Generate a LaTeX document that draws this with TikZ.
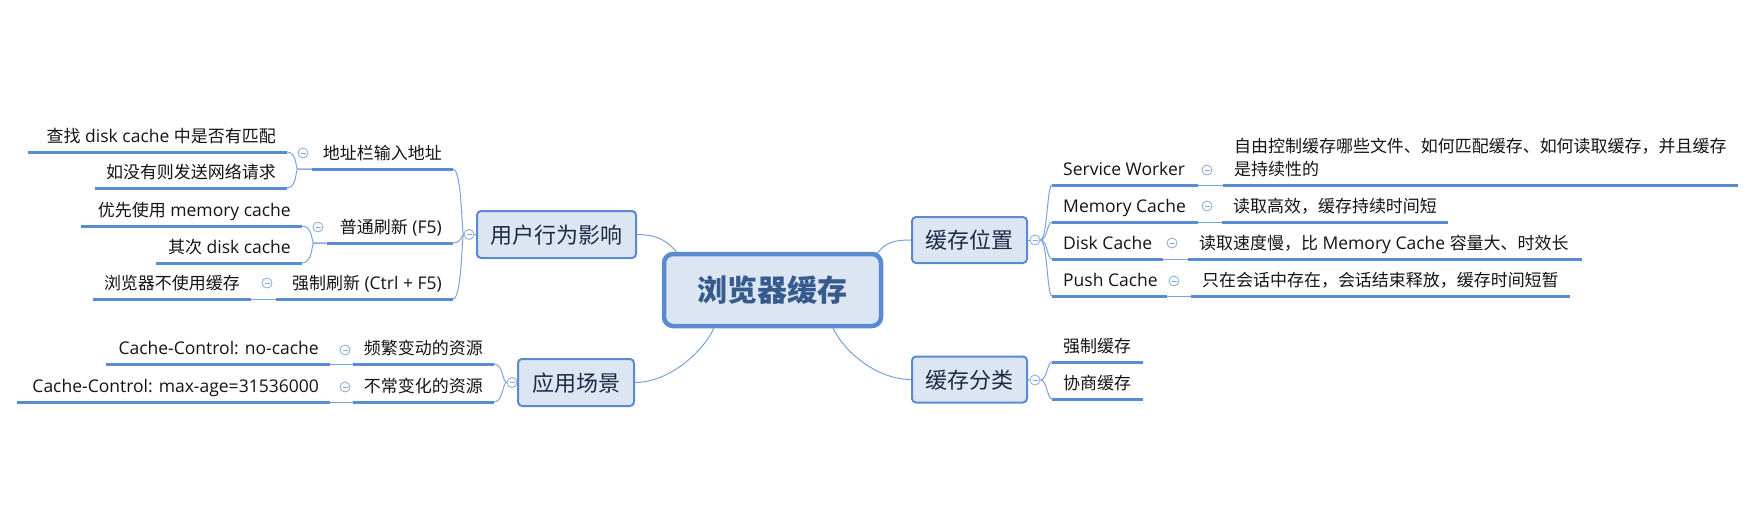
\documentclass[tikz,border=0pt]{standalone}
\usepackage{fontspec}
\setmainfont{Open Sans}
\newfontfamily\cjk{Noto Sans CJK SC}
\newfontfamily\cjks{Noto Sans CJK SC}[Scale=0.97]
\usetikzlibrary{calc}
\definecolor{conn}{HTML}{7AA3DA}
\definecolor{uln}{HTML}{588DD5}
\definecolor{tfill}{HTML}{DCE6F2}
\definecolor{tborder}{HTML}{5A8BD0}
\definecolor{rtext}{HTML}{385B8E}
\definecolor{ttext}{HTML}{1C2B45}
\definecolor{circ}{HTML}{86AADC}
\definecolor{ltext}{HTML}{141414}
\newcommand\zh[1]{{\cjks #1}}
\newcommand\Lx[2]{\hbox to #1pt{\hss #2}}
\newcommand\Rx[2]{\hbox to #1pt{#2\hss}}
\pgfdeclarelayer{back}
\pgfdeclarelayer{bg}
\pgfsetlayers{back,bg,main}
\begin{document}
\begin{tikzpicture}[x=1pt,y=-1pt,
  rootnode/.style={draw=tborder, line width=4.5pt, fill=tfill, rounded corners=9pt,
    minimum width=217pt, minimum height=72pt, inner sep=0pt, text=rtext,
    font={\cjk\bfseries\fontsize{30}{36}\selectfont}, text height=25pt, text depth=2pt},
  topic/.style={draw=tborder, line width=2pt, fill=tfill, rounded corners=4pt, inner sep=0pt,
    text=ttext, font={\cjk\fontsize{22}{26}\selectfont}, text height=18.5pt, text depth=1.5pt},
  leaf/.style={inner xsep=11pt, inner ysep=5pt, text height=13.5pt, text depth=4.5pt,
    text=ltext, font={\fontsize{17.5}{23}\selectfont}},
  uline/.style={draw=uln, line width=3pt},
  conn/.style={draw=conn, line width=1pt},
  mini/.style={circle, draw=circ, fill=white, line width=0.8pt, minimum size=10pt, inner sep=0pt,
    path picture={\draw[circ, line width=0.8pt]
      ([xshift=-2.5pt]path picture bounding box.center) -- ([xshift=2.5pt]path picture bounding box.center);}}
]
\begin{pgfonlayer}{back}
\fill[white] (0,0) rectangle (1761,507);
\end{pgfonlayer}
\useasboundingbox (0,0) rectangle (1761,507);

% main nodes
\node[rootnode] (root) at (772.5,290) {浏览器缓存};
\node[topic, minimum width=159pt, minimum height=47pt] (ub) at (556.5,234.5) {用户行为影响};
\node[topic, minimum width=116pt, minimum height=47pt] (yy) at (576,382.5) {应用场景};
\node[topic, minimum width=115pt, minimum height=46pt] (wz) at (969.5,240) {缓存位置};
\node[topic, minimum width=115pt, minimum height=46pt] (fl) at (969.5,379.5) {缓存分类};

% left leaves
\node[leaf, anchor=south east] (a1) at (453,169) {\Lx{119}{\zh{地址栏输入地址}}};
\node[leaf, anchor=south east] (a2) at (453,243) {\Lx{104}{\zh{普通刷新} (F5)}};
\node[leaf, anchor=south east] (a3) at (453,299) {\Lx{155}{\zh{强制刷新} (Ctrl + F5)}};
\node[leaf, anchor=south east] (b1) at (287,152) {\Lx{237}{\zh{查找} disk cache \zh{中是否有匹配}}};
\node[leaf, anchor=south east] (b2) at (287,188) {\Lx{170}{\zh{如没有则发送网络请求}}};
\node[leaf, anchor=south east] (b3) at (302,226) {\Lx{199}{\zh{优先使用} memory cache}};
\node[leaf, anchor=south east] (b4) at (302,263) {\Lx{124}{\zh{其次} disk cache}};
\node[leaf, anchor=south east] (b5) at (251,299) {\Lx{136}{\zh{浏览器不使用缓存}}};
\node[leaf, anchor=south east] (f1) at (494,364) {\Lx{119}{\zh{频繁变动的资源}}};
\node[leaf, anchor=south east] (f2) at (494,402) {\Lx{119}{\zh{不常变化的资源}}};
\node[leaf, anchor=south east] (g1) at (330,364) {\Lx{202}{Cache-Control: no-cache}};
\node[leaf, anchor=south east] (g2) at (330,402) {\Lx{291}{Cache-Control: max-age=31536000}};

% right leaves
\node[leaf, anchor=south west] (c1) at (1052,185) {\Rx{124}{Service Worker}};
\node[leaf, anchor=south west] (c2) at (1052,222) {\Rx{124}{Memory Cache}};
\node[leaf, anchor=south west] (c3) at (1052,259) {\Rx{89}{Disk Cache}};
\node[leaf, anchor=south west] (c4) at (1052,296) {\Rx{93}{Push Cache}};
\node[leaf, anchor=south west, text width=493pt, align=left, text depth=27.5pt] (d1) at (1223,185)
  {\zh{自由控制缓存哪些文件、如何匹配缓存、如何读取缓存，并且缓存}\\\zh{是持续性的}};
\node[leaf, anchor=south west] (d2) at (1222,222) {\Rx{204}{\zh{读取高效，缓存持续时间短}}};
\node[leaf, anchor=south west] (d3) at (1188,259) {\Rx{372}{\zh{读取速度慢，比} Memory Cache \zh{容量大、时效长}}};
\node[leaf, anchor=south west] (d4) at (1191,296) {\Rx{357}{\zh{只在会话中存在，会话结束释放，缓存时间短暂}}};
\node[leaf, anchor=south west] (e1) at (1052,362) {\Rx{69}{\zh{强制缓存}}};
\node[leaf, anchor=south west] (e2) at (1052,399) {\Rx{69}{\zh{协商缓存}}};

% underlines
\foreach \n in {a1,a2,a3,b1,b2,b3,b4,b5,f1,f2,g1,g2,c1,c2,c3,c4,d1,d2,d3,d4,e1,e2}
  \draw[uline] (\n.south west) -- (\n.south east);

% collapse marks
\node[mini] (kub) at (469,234.5) {};
\node[mini] (kyy) at (512,382.5) {};
\node[mini] (kwz) at (1035,240) {};
\node[mini] (kfl) at (1035,380) {};
\node[mini] (ka1) at (303,153) {};
\node[mini] (ka2) at (318,227) {};
\node[mini] (ka3) at (267,283) {};
\node[mini] (kf1) at (345,350) {};
\node[mini] (kf2) at (345,387) {};
\node[mini] (kc1) at (1207,170) {};
\node[mini] (kc2) at (1207,206) {};
\node[mini] (kc3) at (1172,243) {};
\node[mini] (kc4) at (1174,281) {};

\begin{pgfonlayer}{bg}
% root connectors
\draw[conn] ($(root.north west)+(16,2)$) .. controls ($(root.north west)+(8,-9)$) and ($(ub.east)+(22,0)$) .. (ub.east);
\draw[conn] ($(root.north east)+(-7,3)$) .. controls ($(root.north east)+(2,-10)$) and ($(wz.west)+(-16,0)$) .. (wz.west);
\draw[conn] ($(root.south west)+(53,-2)$) .. controls ($(root.south west)+(43,22)$) and ($(yy.east)+(35,0)$) .. (yy.east);
\draw[conn] ($(root.south east)+(-51,-2)$) .. controls ($(root.south east)+(-41,22)$) and ($(fl.west)+(-35,0)$) .. (fl.west);

% topic to collapse mark
\draw[conn] (kub.east) -- (ub.west);
\draw[conn] (kyy.east) -- (yy.west);
\draw[conn] (wz.east) -- (kwz.west);
\draw[conn] (fl.east) -- (kfl.west);

% brackets
\foreach \n in {a1,a2,a3}
  \draw[conn] (kub.west) .. controls ($(kub.west)+(-2,0)$) and ($(\n.south east)+(9,0)$) .. (\n.south east);
\foreach \n in {f1,f2}
  \draw[conn] (kyy.west) .. controls ($(kyy.west)+(-4,0)$) and ($(\n.south east)+(9,0)$) .. (\n.south east);
\foreach \n in {c1,c2,c3,c4}
  \draw[conn] (kwz.east) .. controls ($(kwz.east)+(7,0)$) and ($(\n.south west)+(-5,0)$) .. (\n.south west);
\foreach \n in {e1,e2}
  \draw[conn] (kfl.east) .. controls ($(kfl.east)+(7,0)$) and ($(\n.south west)+(-5,0)$) .. (\n.south west);
\foreach \n in {b1,b2}
  \draw[conn] (a1.south west) -- ($(a1.south west)+(-14,0)$) .. controls ($(a1.south west)+(-16,0)$) and ($(\n.south east)+(10,0)$) .. (\n.south east);
\foreach \n in {b3,b4}
  \draw[conn] (a2.south west) -- ($(a2.south west)+(-13,0)$) .. controls ($(a2.south west)+(-15,0)$) and ($(\n.south east)+(11,0)$) .. (\n.south east);
\draw[conn] (a3.south west) -- (b5.south east);
\draw[conn] (f1.south west) -- (g1.south east);
\draw[conn] (f2.south west) -- (g2.south east);
\draw[conn] (c1.south east) -- (d1.south west);
\draw[conn] (c2.south east) -- (d2.south west);
\draw[conn] (c3.south east) -- (d3.south west);
\draw[conn] (c4.south east) -- (d4.south west);
\end{pgfonlayer}
\end{tikzpicture}
\end{document}
